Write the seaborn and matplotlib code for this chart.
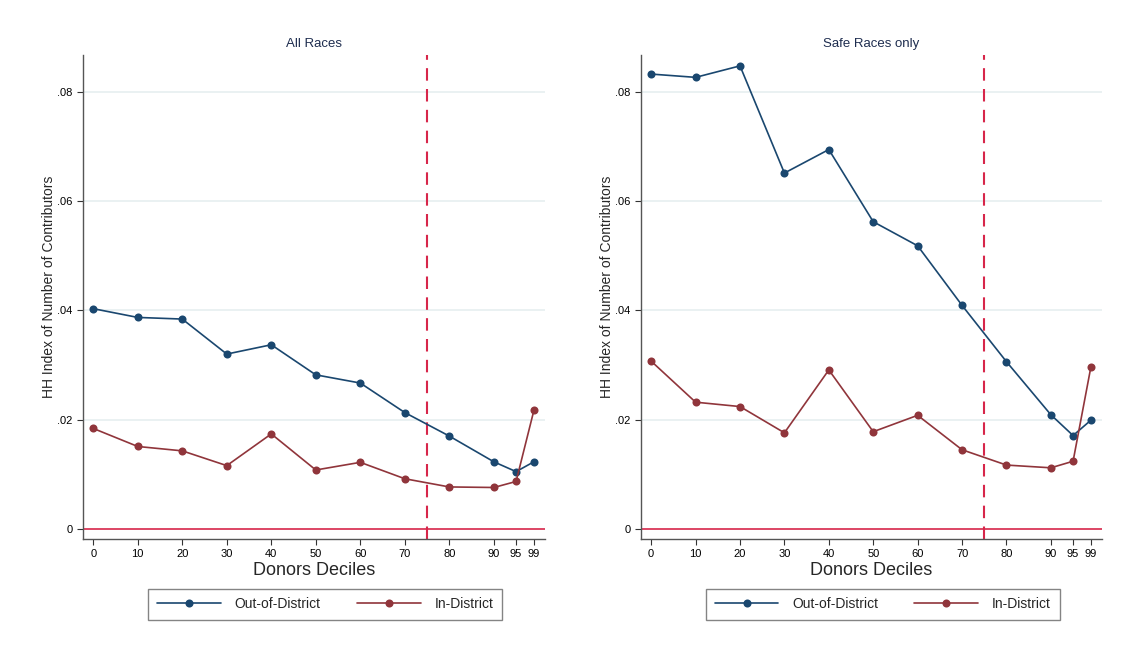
import numpy as np
import pandas as pd
import matplotlib
matplotlib.use("Agg")
import matplotlib.pyplot as plt
import seaborn as sns
from matplotlib.ticker import FuncFormatter

sns.set_style("white")
plt.rcParams['font.family'] = ['Liberation Sans', 'DejaVu Sans']

# --- dados ---
deciles = [0, 10, 20, 30, 40, 50, 60, 70, 80, 90, 95, 99]
x_ticks = [0, 10, 20, 30, 40, 50, 60, 70, 80, 90, 95, 99]
y_ticks = [0, 0.02, 0.04, 0.06, 0.08]

all_out = [0.0403, 0.0387, 0.0384, 0.0320, 0.0337, 0.0282, 0.0267, 0.0213, 0.0170, 0.0123, 0.0105, 0.0123]
all_in = [0.0184, 0.0151, 0.0143, 0.0116, 0.0174, 0.0108, 0.0122, 0.0092, 0.0077, 0.0076, 0.0087, 0.0217]
safe_out = [0.0832, 0.0826, 0.0847, 0.0651, 0.0694, 0.0562, 0.0518, 0.0409, 0.0306, 0.0209, 0.0171, 0.0199]
safe_in = [0.0307, 0.0232, 0.0224, 0.0176, 0.0291, 0.0178, 0.0208, 0.0145, 0.0117, 0.0112, 0.0124, 0.0296]

panel_titles = ["All Races", "Safe Races only"]
series_names = ["Out-of-District", "In-District"]
cutoff = 75

navy = "#1a476f"
maroon = "#90353b"
red = "#d7264a"
grid_col = "#e6eff0"

frames = []
for title, out_v, in_v in [(panel_titles[0], all_out, all_in), (panel_titles[1], safe_out, safe_in)]:
    frames.append(pd.DataFrame({'panel': title, 'serie': series_names[0], 'decil': deciles, 'hh': out_v}))
    frames.append(pd.DataFrame({'panel': title, 'serie': series_names[1], 'decil': deciles, 'hh': in_v}))
df = pd.concat(frames, ignore_index=True)

fig = plt.figure(figsize=(11.45, 6.54), dpi=100)
ax_pos = [[0.0725, 0.176, 0.4035, 0.740], [0.5598, 0.176, 0.4026, 0.740]]
legend_x = [0.141, 0.141]

def fmt(v, pos):
    if abs(v) < 1e-12:
        return "0"
    return ("%.2f" % v).lstrip("0")

for i, title in enumerate(panel_titles):
    ax = fig.add_axes(ax_pos[i])
    sub = df[df['panel'] == title]
    for y in y_ticks[1:]:
        ax.axhline(y, color=grid_col, lw=1.2, zorder=0)
    ax.axhline(0, color=red, lw=1.2, zorder=1)
    ax.axvline(cutoff, color=red, lw=1.5, ls=(0, (6, 4)), zorder=1)
    sns.lineplot(data=sub, x='decil', y='hh', hue='serie', hue_order=series_names,
                 palette=[navy, maroon], marker='o', markersize=5.8, markeredgewidth=0,
                 linewidth=1.2, ax=ax, zorder=3)
    ax.set_xlim(-2.3, 101.5)
    ax.set_ylim(-0.0018, 0.0867)
    ax.set_xticks(x_ticks)
    ax.set_yticks(y_ticks)
    ax.yaxis.set_major_formatter(FuncFormatter(fmt))
    ax.tick_params(axis='both', labelsize=8, length=4, width=0.8, direction='out',
                   colors='#333333', labelcolor='black', bottom=True, left=True)
    for s in ['top', 'right']:
        ax.spines[s].set_visible(False)
    for s in ['left', 'bottom']:
        ax.spines[s].set_color('#555555')
        ax.spines[s].set_linewidth(1.0)
    ax.set_title(title, fontsize=9.5, color='#1e2d4f', pad=6)
    ax.set_xlabel("Donors Deciles", fontsize=13, labelpad=2)
    ax.set_ylabel("HH Index of Number of Contributors", fontsize=10)
    ax.yaxis.set_label_coords(-0.059, 0.52)
    handles, labels = ax.get_legend_handles_labels()
    leg = ax.legend(handles, labels, loc='upper left', bbox_to_anchor=(legend_x[i], -0.103),
                    borderaxespad=0, ncol=2, frameon=True, fancybox=False, edgecolor='#666666',
                    fontsize=10, handlelength=4.6, columnspacing=2.6, borderpad=0.62,
                    handletextpad=1.0)
    leg.get_frame().set_linewidth(1.0)

plt.savefig("out.png", dpi=100)
